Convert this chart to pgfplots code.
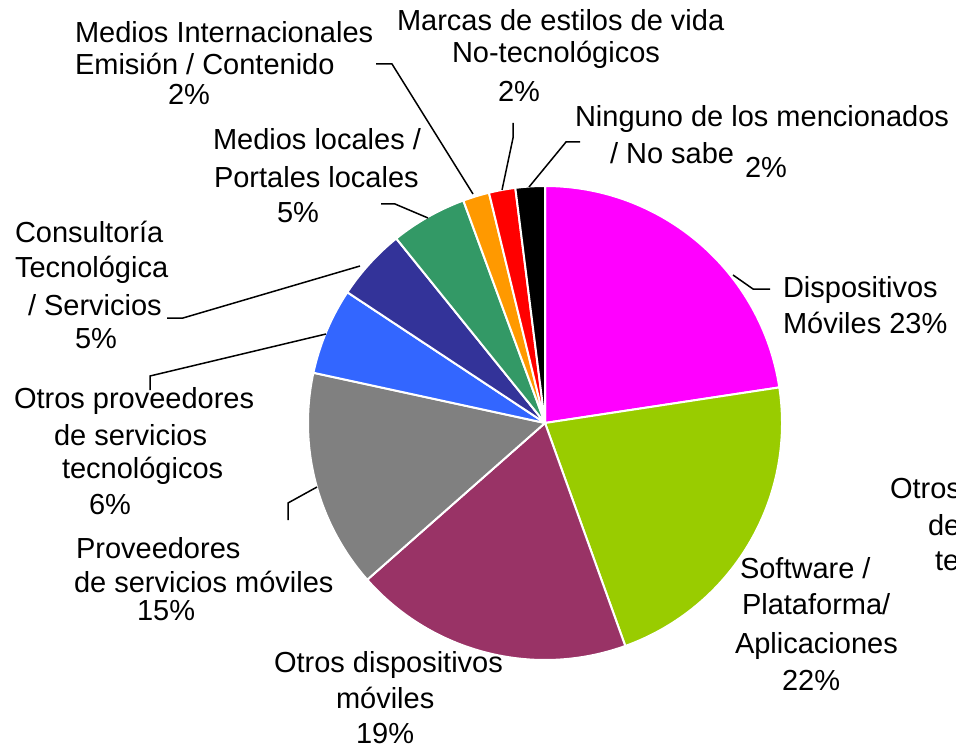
\documentclass[border=0pt]{standalone}
\usepackage{fontspec}
\setmainfont{Liberation Sans}
\usepackage{pgfplots}
\usepackage{pgfplotstable}
\pgfplotsset{compat=1.18}

\definecolor{cMag}{HTML}{FF00FF}
\definecolor{cLime}{HTML}{99CC00}
\definecolor{cPlum}{HTML}{993366}
\definecolor{cGray}{HTML}{808080}
\definecolor{cBlue}{HTML}{3366FF}
\definecolor{cNavy}{HTML}{333399}
\definecolor{cGreen}{HTML}{339966}
\definecolor{cOrange}{HTML}{FF9900}
\definecolor{cRed}{HTML}{FF0000}
\definecolor{cBlack}{HTML}{000000}

\tikzset{lbl/.style={inner sep=0pt, outer sep=0pt, anchor=base west, font=\fontsize{14.5}{18}\selectfont}}

% share (%) of each slice, clockwise from 12 o'clock
\pgfplotstableread{
idx value color
0 22.6 cMag
1 21.9 cLime
2 19.0 cPlum
3 14.9 cGray
4 5.9  cBlue
5 4.9  cNavy
6 5.2  cGreen
7 1.8  cOrange
8 1.8  cRed
9 2.0  cBlack
}\piedata

\def\cum{0}%
\pgfplotsforeachungrouped \i in {0,...,9}{%
  \pgfplotstablegetelem{\i}{value}\of\piedata \let\v\pgfplotsretval
  \pgfplotstablegetelem{\i}{color}\of\piedata \let\c\pgfplotsretval
  \pgfmathsetmacro\sa{90-\cum*3.6}%
  \pgfmathsetmacro\cum{\cum+\v}%
  \pgfmathsetmacro\ea{90-\cum*3.6}%
  \expandafter\xdef\csname pieS\i\endcsname{\sa}%
  \expandafter\xdef\csname pieE\i\endcsname{\ea}%
  \expandafter\xdef\csname pieC\i\endcsname{\c}%
}%

\begin{document}
\begin{tikzpicture}
\path[use as bounding box] (0,0) rectangle (478pt,374pt);
\begin{axis}[at={(0,0)}, anchor=south west, scale only axis,
  x=0.5pt, y=0.5pt, xmin=0, xmax=956, ymin=0, ymax=748, y dir=reverse,
  hide axis, clip=false]
\pgfplotsinvokeforeach{0,...,9}{%
  \edef\temp{\noexpand\fill[fill=\csname pieC#1\endcsname, draw=white, line width=1pt, line join=round]
    (axis cs:545,423) -- ++(\csname pieS#1\endcsname:118.5pt)
    arc[start angle=\csname pieS#1\endcsname, end angle=\csname pieE#1\endcsname, radius=118.5pt] -- cycle;}%
  \temp
}
% leader lines
\begin{scope}[line width=0.75pt, black]
\draw (axis cs:376,64) -- (axis cs:392,64) -- (axis cs:473,194);
\draw (axis cs:513,123) -- (axis cs:513,138) -- (axis cs:502,190);
\draw (axis cs:580,142) -- (axis cs:566,142) -- (axis cs:529,187);
\draw (axis cs:381,204) -- (axis cs:395,204) -- (axis cs:428,218);
\draw (axis cs:167,318) -- (axis cs:183,318) -- (axis cs:360,266);
\draw (axis cs:150,390) -- (axis cs:150,376) -- (axis cs:326,334);
\draw (axis cs:288,520) -- (axis cs:288,503) -- (axis cs:317,487);
\draw (axis cs:770,289) -- (axis cs:753,289) -- (axis cs:733,275);
\end{scope}
% labels
\node[lbl] at (axis cs:75,43) {Medios Internacionales};
\node[lbl] at (axis cs:75,75) {Emisión / Contenido};
\node[lbl] at (axis cs:168,105) {2\%};
\node[lbl] at (axis cs:397,31) {Marcas de estilos de vida};
\node[lbl] at (axis cs:452,63) {No-tecnológicos};
\node[lbl] at (axis cs:498,102) {2\%};
\node[lbl] at (axis cs:575,127) {Ninguno de los mencionados};
\node[lbl] at (axis cs:610,164) {/ No sabe};
\node[lbl] at (axis cs:745,178) {2\%};
\node[lbl] at (axis cs:213,150) {Medios locales /};
\node[lbl] at (axis cs:214,188) {Portales locales};
\node[lbl] at (axis cs:277,223) {5\%};
\node[lbl] at (axis cs:15,243) {Consultoría};
\node[lbl] at (axis cs:15,278) {Tecnológica};
\node[lbl] at (axis cs:28,315) {/ Servicios};
\node[lbl] at (axis cs:75,348) {5\%};
\node[lbl] at (axis cs:14,408) {Otros proveedores};
\node[lbl] at (axis cs:54,445) {de servicios};
\node[lbl] at (axis cs:62,478) {tecnológicos};
\node[lbl] at (axis cs:89,514) {6\%};
\node[lbl] at (axis cs:76,558) {Proveedores};
\node[lbl] at (axis cs:74,592) {de servicios móviles};
\node[lbl] at (axis cs:137,620) {15\%};
\node[lbl] at (axis cs:274,672) {Otros dispositivos};
\node[lbl] at (axis cs:336,708) {móviles};
\node[lbl] at (axis cs:356,743) {19\%};
\node[lbl] at (axis cs:740,578) {Software /};
\node[lbl] at (axis cs:742,614) {Plataforma/};
\node[lbl] at (axis cs:735,653) {Aplicaciones};
\node[lbl] at (axis cs:782,690) {22\%};
\node[lbl] at (axis cs:783,297) {Dispositivos};
\node[lbl] at (axis cs:783,333) {Móviles 23\%};
\node[lbl, overlay] at (axis cs:890,498) {Otros proveedores};
\node[lbl, overlay] at (axis cs:928,535) {de servicios};
\node[lbl, overlay] at (axis cs:935,570) {tecnológicos};
\end{axis}
\end{tikzpicture}%
\end{document}
